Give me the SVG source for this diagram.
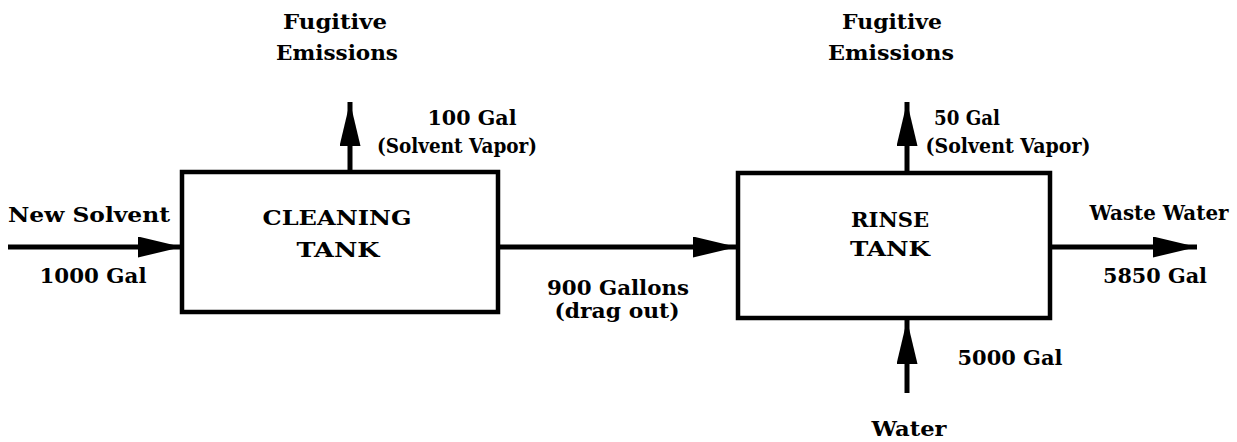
<svg xmlns="http://www.w3.org/2000/svg" width="1237" height="442" viewBox="0 0 1237 442">
<style>
.box{fill:none;stroke:#000;stroke-width:4.5}
.flow{stroke:#000;stroke-width:5;fill:none;marker-end:url(#ah)}
text{font-family:"DejaVu Serif","Liberation Serif",serif;font-weight:bold;font-size:21px;fill:#000;text-anchor:middle}
</style>
<defs>
<marker id="ah" viewBox="0 0 44 21" refX="44" refY="10.5" markerWidth="44" markerHeight="21" markerUnits="userSpaceOnUse" orient="auto">
<polygon points="0,0 44,10.5 0,21"/>
</marker>
</defs>
<rect width="1237" height="442" fill="#fff"/>
<g id="connectors">
<path class="flow" d="M8,247 H182"/>
<path class="flow" d="M498,247 H737"/>
<path class="flow" d="M1050,247 H1197"/>
<path class="flow" d="M350,172 V102"/>
<path class="flow" d="M907,173 V102"/>
<path class="flow" d="M907,393 V320"/>
</g>
<g id="cleaning-tank">
<rect class="box" x="182" y="172" width="316" height="140"/>
<text x="337" y="225" textLength="149" lengthAdjust="spacingAndGlyphs">CLEANING</text>
<text x="338" y="257" textLength="83" lengthAdjust="spacingAndGlyphs">TANK</text>
</g>
<g id="rinse-tank">
<rect class="box" x="738" y="173" width="312" height="145"/>
<text x="890" y="227" textLength="78" lengthAdjust="spacingAndGlyphs">RINSE</text>
<text x="890" y="256" textLength="80" lengthAdjust="spacingAndGlyphs">TANK</text>
</g>
<g id="labels">
<text x="335" y="29" textLength="104" lengthAdjust="spacingAndGlyphs">Fugitive</text>
<text x="337" y="60" textLength="122" lengthAdjust="spacingAndGlyphs">Emissions</text>
<text x="472" y="125" textLength="89" lengthAdjust="spacingAndGlyphs">100 Gal</text>
<text x="457" y="153" textLength="160" lengthAdjust="spacingAndGlyphs">(Solvent Vapor)</text>
<text x="89" y="222" textLength="162" lengthAdjust="spacingAndGlyphs">New Solvent</text>
<text x="93" y="283" textLength="107" lengthAdjust="spacingAndGlyphs">1000 Gal</text>
<text x="618" y="295" textLength="142" lengthAdjust="spacingAndGlyphs">900 Gallons</text>
<text x="617" y="318" textLength="125" lengthAdjust="spacingAndGlyphs">(drag out)</text>
<text x="892" y="29" textLength="100" lengthAdjust="spacingAndGlyphs">Fugitive</text>
<text x="891" y="60" textLength="126" lengthAdjust="spacingAndGlyphs">Emissions</text>
<text x="967" y="125" textLength="66" lengthAdjust="spacingAndGlyphs">50 Gal</text>
<text x="1008" y="153" textLength="165" lengthAdjust="spacingAndGlyphs">(Solvent Vapor)</text>
<text x="1159" y="220" textLength="139" lengthAdjust="spacingAndGlyphs">Waste Water</text>
<text x="1155" y="283" textLength="104" lengthAdjust="spacingAndGlyphs">5850 Gal</text>
<text x="1010" y="365" textLength="105" lengthAdjust="spacingAndGlyphs">5000 Gal</text>
<text x="909" y="436" textLength="75" lengthAdjust="spacingAndGlyphs">Water</text>
</g>
</svg>
